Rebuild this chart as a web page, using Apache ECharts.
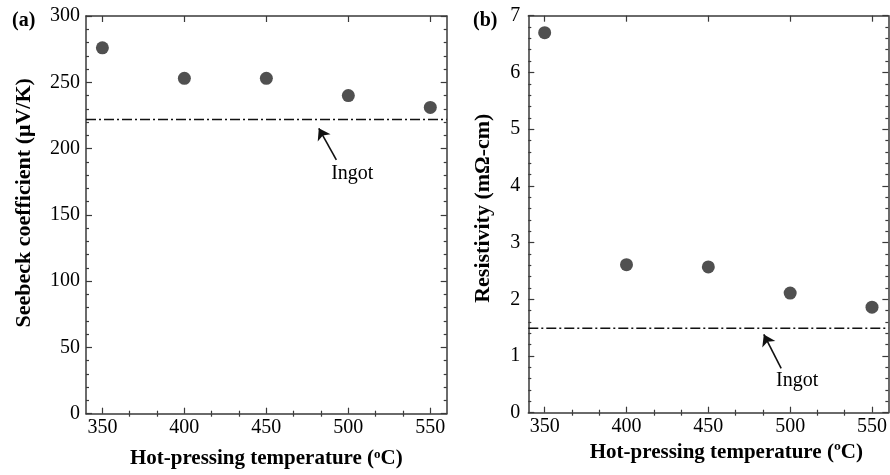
<!DOCTYPE html>
<html>
<head>
<meta charset="utf-8">
<script src="https://cdn.jsdelivr.net/npm/echarts@6/dist/echarts.min.js"></script>
<style>
html,body{margin:0;padding:0;background:#fff;}
#chart{width:890px;height:475px;}
</style>
</head>
<body>
<div id="chart"></div>
<script>
// ---- data ----
var temperatures = [350, 400, 450, 500, 550];
var seebeck = [276, 253, 253, 240, 231];
var resistivity = [6.7, 2.61, 2.57, 2.11, 1.86];
var seebeckIngot = 222;
var resistivityIngot = 1.49;
var xTickLabels = [350, 400, 450, 500, 550];
var xMinorTicks = [366.67, 383.33, 416.67, 433.33, 466.67, 483.33, 516.67, 533.33];
var seebeckArrow = [[492.7, 191.4], [482, 215.3]];
var seebeckIngotText = [502.4, 180.9];
var resistArrow = [[494.5, 0.78], [483.9, 1.38]];
var resistIngotText = [504.3, 0.56];

var FONT = '"Liberation Serif", "Times New Roman", serif';
var AX = '#3a3a3a';
var TXT = '#000000';
var MARK = '#505050';

function xAxes(grid, name, gap, rich, pad) {
  var base = {gridIndex: grid, type: 'value', min: 340, max: 560,
    splitLine: {show: false},
    axisLine: {show: true, onZero: false, lineStyle: {color: AX, width: 1.5}}};
  return [
    Object.assign({}, base, {position: 'bottom', name: name, nameLocation: 'middle', nameGap: gap,
      nameTextStyle: {fontFamily: FONT, fontWeight: 'bold', fontSize: 21, color: TXT, rich: rich, padding: pad},
      axisLabel: {customValues: xTickLabels, fontFamily: FONT, fontSize: 20, color: TXT, margin: 4},
      axisTick: {customValues: xTickLabels, inside: true, length: 6, lineStyle: {color: AX, width: 1.2}}}),
    Object.assign({}, base, {position: 'bottom', axisLine: {show: false},
      axisLabel: {show: false},
      axisTick: {customValues: xMinorTicks, inside: true, length: 3, lineStyle: {color: AX, width: 1.2}}}),
    Object.assign({}, base, {position: 'top',
      axisLabel: {show: false},
      axisTick: {customValues: xTickLabels, inside: true, length: 6, lineStyle: {color: AX, width: 1.2}}}),
    Object.assign({}, base, {position: 'top', axisLine: {show: false},
      axisLabel: {show: false},
      axisTick: {customValues: xMinorTicks, inside: true, length: 3, lineStyle: {color: AX, width: 1.2}}})
  ];
}

function yAxes(grid, max, interval, name, gap, labelMargin, pad) {
  var base = {gridIndex: grid, type: 'value', min: 0, max: max, interval: interval,
    splitLine: {show: false}, minorSplitLine: {show: false},
    axisLine: {show: true, onZero: false, lineStyle: {color: AX, width: 1.5}},
    axisTick: {inside: true, length: 6, lineStyle: {color: AX, width: 1.2}},
    minorTick: {show: true, splitNumber: 5, length: 3, lineStyle: {color: AX, width: 1.2}}};
  return [
    Object.assign({}, base, {position: 'left', name: name, nameLocation: 'middle', nameGap: gap,
      nameTextStyle: {fontFamily: FONT, fontWeight: 'bold', fontSize: 22, color: TXT, padding: pad},
      axisLabel: {fontFamily: FONT, fontSize: 20, color: TXT, margin: labelMargin}}),
    Object.assign({}, base, {position: 'right', axisLabel: {show: false}})
  ];
}

var supRich = {sup: {fontFamily: FONT, fontWeight: 'bold', fontSize: 13, color: TXT, padding: [0, 0, 9, 0]}};

function dots(ax, vals) {
  return {type: 'scatter', xAxisIndex: ax[0], yAxisIndex: ax[1], symbol: 'circle', symbolSize: 13,
    itemStyle: {color: MARK, opacity: 1},
    data: temperatures.map(function (t, i) { return [t, vals[i]]; })};
}
function ingotLine(ax, v, arrow) {
  return {type: 'line', xAxisIndex: ax[0], yAxisIndex: ax[1], symbol: 'none',
    lineStyle: {color: '#111', width: 1.5, type: [10, 3, 2, 3]},
    data: [[340, v], [560, v]],
    markLine: {silent: true, symbol: ['none', 'arrow'], symbolSize: 11, label: {show: false},
      lineStyle: {color: '#111', width: 1.6, type: 'solid'},
      data: [[{coord: arrow[0]}, {coord: arrow[1]}]]}};
}
function ingotText(ax, p) {
  return {type: 'scatter', xAxisIndex: ax[0], yAxisIndex: ax[1], symbolSize: 1,
    itemStyle: {color: 'rgba(0,0,0,0)', opacity: 1},
    label: {show: true, position: 'inside', formatter: 'Ingot', fontFamily: FONT, fontSize: 20, color: TXT},
    data: [p]};
}

var option = {
  animation: false,
  backgroundColor: '#fff',
  title: [
    {text: '(a)', left: 7, top: 6, textStyle: {fontFamily: FONT, fontWeight: 'bold', fontSize: 20, color: TXT}},
    {text: '(b)', left: 468, top: 6, textStyle: {fontFamily: FONT, fontWeight: 'bold', fontSize: 20, color: TXT}}
  ],
  grid: [
    {left: 86, top: 16, width: 360.7, height: 397.7},
    {left: 528.3, top: 15.7, width: 361, height: 397}
  ],
  xAxis: xAxes(0, 'Hot-pressing temperature ({sup|o}C)', 34, supRich, [0, 0, 0, 0])
    .concat(xAxes(1, 'Hot-pressing temperature (\u00baC)', 25, null, [0, 0, 0, 36])),
  yAxis: yAxes(0, 300, 50, 'Seebeck coefficient (\u03bcV/K)', 51, 6, [0, 0, 0, 24])
    .concat(yAxes(1, 7, 1, 'Resistivity (m\u03a9-cm)', 34, 8, [0, 0, 0, 12])),
  series: [
    dots([0, 0], seebeck),
    ingotLine([0, 0], seebeckIngot, seebeckArrow),
    ingotText([0, 0], seebeckIngotText),
    dots([4, 2], resistivity),
    ingotLine([4, 2], resistivityIngot, resistArrow),
    ingotText([4, 2], resistIngotText)
  ]
};

var chart = echarts.init(document.getElementById('chart'), null, {renderer: 'canvas'});
chart.setOption(option);
</script>
</body>
</html>
